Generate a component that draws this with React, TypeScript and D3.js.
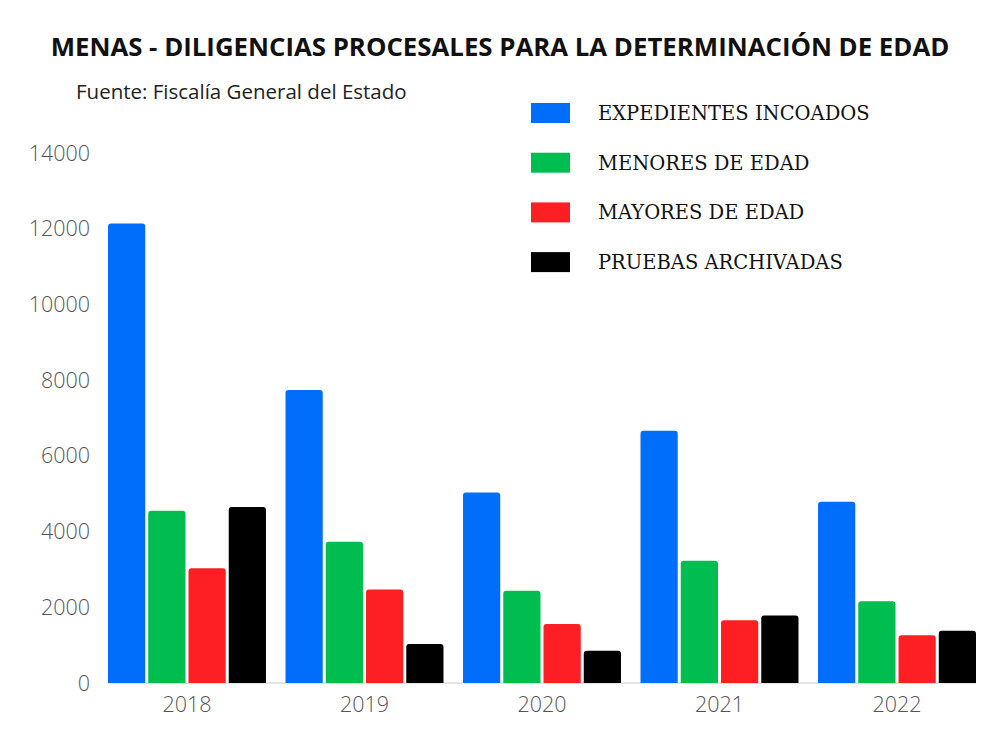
import React, { useEffect, useRef } from 'react';
import * as d3 from 'd3';

const years = ['2018', '2019', '2020', '2021', '2022'];
const seriesNames = ['EXPEDIENTES INCOADOS', 'MENORES DE EDAD', 'MAYORES DE EDAD', 'PRUEBAS ARCHIVADAS'];
const seriesColors = ['#006dfb', '#00bd50', '#fe1f24', '#000000'];
const expedientes = [12140, 7740, 5030, 6660, 4790];
const menores = [4550, 3730, 2440, 3230, 2160];
const mayores = [3030, 2470, 1560, 1660, 1260];
const archivadas = [4650, 1030, 850, 1780, 1380];
const yTicks = [0, 2000, 4000, 6000, 8000, 10000, 12000, 14000];

const W = 1000;
const H = 750;

const App: React.FC = () => {
  const svgRef = useRef<SVGSVGElement>(null);

  useEffect(() => {
    document.body.style.margin = '0';
    if (!svgRef.current) return;
    const svg = d3.select(svgRef.current);
    svg.selectAll('*').remove();

    const series = [expedientes, menores, mayores, archivadas];
    const rows = years.map((yr, i) => ({ yr, vals: series.map(s => s[i]) }));

    const x0 = d3.scaleBand<string>().domain(years).range([108, 976]).paddingInner(0.11).paddingOuter(0);
    const x1 = d3.scaleBand<number>().domain(d3.range(4)).range([0, x0.bandwidth()]).paddingInner(0.075);
    const y = d3.scaleLinear().domain([0, 14000]).range([683, 153]);

    // title + source
    svg.append('text')
      .attr('x', 500).attr('y', 56)
      .attr('text-anchor', 'middle')
      .attr('font-family', '"Open Sans", sans-serif')
      .attr('font-weight', 700)
      .attr('font-size', 25.8)
      .attr('fill', '#111')
      .text('MENAS - DILIGENCIAS PROCESALES PARA LA DETERMINACIÓN DE EDAD');

    svg.append('text')
      .attr('x', 76).attr('y', 99)
      .attr('font-family', '"Open Sans", sans-serif')
      .attr('font-size', 20.5)
      .attr('fill', '#222')
      .text('Fuente: Fiscalía General del Estado');

    // y tick labels (no gridlines)
    svg.append('g')
      .selectAll('text')
      .data(yTicks)
      .join('text')
      .attr('x', 90)
      .attr('y', d => y(d))
      .attr('dy', '0.35em')
      .attr('text-anchor', 'end')
      .attr('font-family', '"Open Sans", sans-serif')
      .attr('font-weight', 300)
      .attr('font-size', 21.5)
      .attr('fill', '#555')
      .text(d => d);

    // baseline
    svg.append('line')
      .attr('x1', x0.range()[0]).attr('x2', x0.range()[1])
      .attr('y1', y(0)).attr('y2', y(0))
      .attr('stroke', '#ccc')
      .attr('stroke-width', 1);

    // bars with rounded tops
    const r = 3;
    const barPath = (bx: number, bw: number, top: number, bottom: number) => {
      const rr = Math.min(r, (bottom - top) / 2);
      return `M${bx},${bottom}V${top + rr}Q${bx},${top} ${bx + rr},${top}H${bx + bw - rr}Q${bx + bw},${top} ${bx + bw},${top + rr}V${bottom}Z`;
    };

    const groups = svg.append('g')
      .selectAll('g')
      .data(rows)
      .join('g')
      .attr('transform', d => `translate(${x0(d.yr)},0)`);

    groups.selectAll('path')
      .data(d => d.vals.map((v, k) => ({ v, k })))
      .join('path')
      .attr('d', d => barPath(x1(d.k)!, x1.bandwidth(), y(d.v), y(0)))
      .attr('fill', d => seriesColors[d.k]);

    // x labels
    svg.append('g')
      .selectAll('text')
      .data(years)
      .join('text')
      .attr('x', d => x0(d)! + x0.bandwidth() / 2)
      .attr('y', 712)
      .attr('text-anchor', 'middle')
      .attr('font-family', '"Open Sans", sans-serif')
      .attr('font-weight', 300)
      .attr('font-size', 21.5)
      .attr('fill', '#555')
      .text(d => d);

    // legend
    const legend = svg.append('g')
      .selectAll('g')
      .data(seriesNames)
      .join('g')
      .attr('transform', (_, i) => `translate(531,${113 + i * 49.7})`);

    legend.append('rect')
      .attr('x', 0).attr('y', -10)
      .attr('width', 39).attr('height', 20)
      .attr('fill', (_, i) => seriesColors[i]);

    legend.append('text')
      .attr('x', 67).attr('y', 0)
      .attr('dy', '0.35em')
      .attr('font-family', '"DejaVu Serif", serif')
      .attr('font-size', 19.5)
      .attr('fill', '#111')
      .text(d => d);
  }, []);

  return <svg ref={svgRef} width={W} height={H} style={{ display: 'block', background: '#fff' }} />;
};

export default App;
